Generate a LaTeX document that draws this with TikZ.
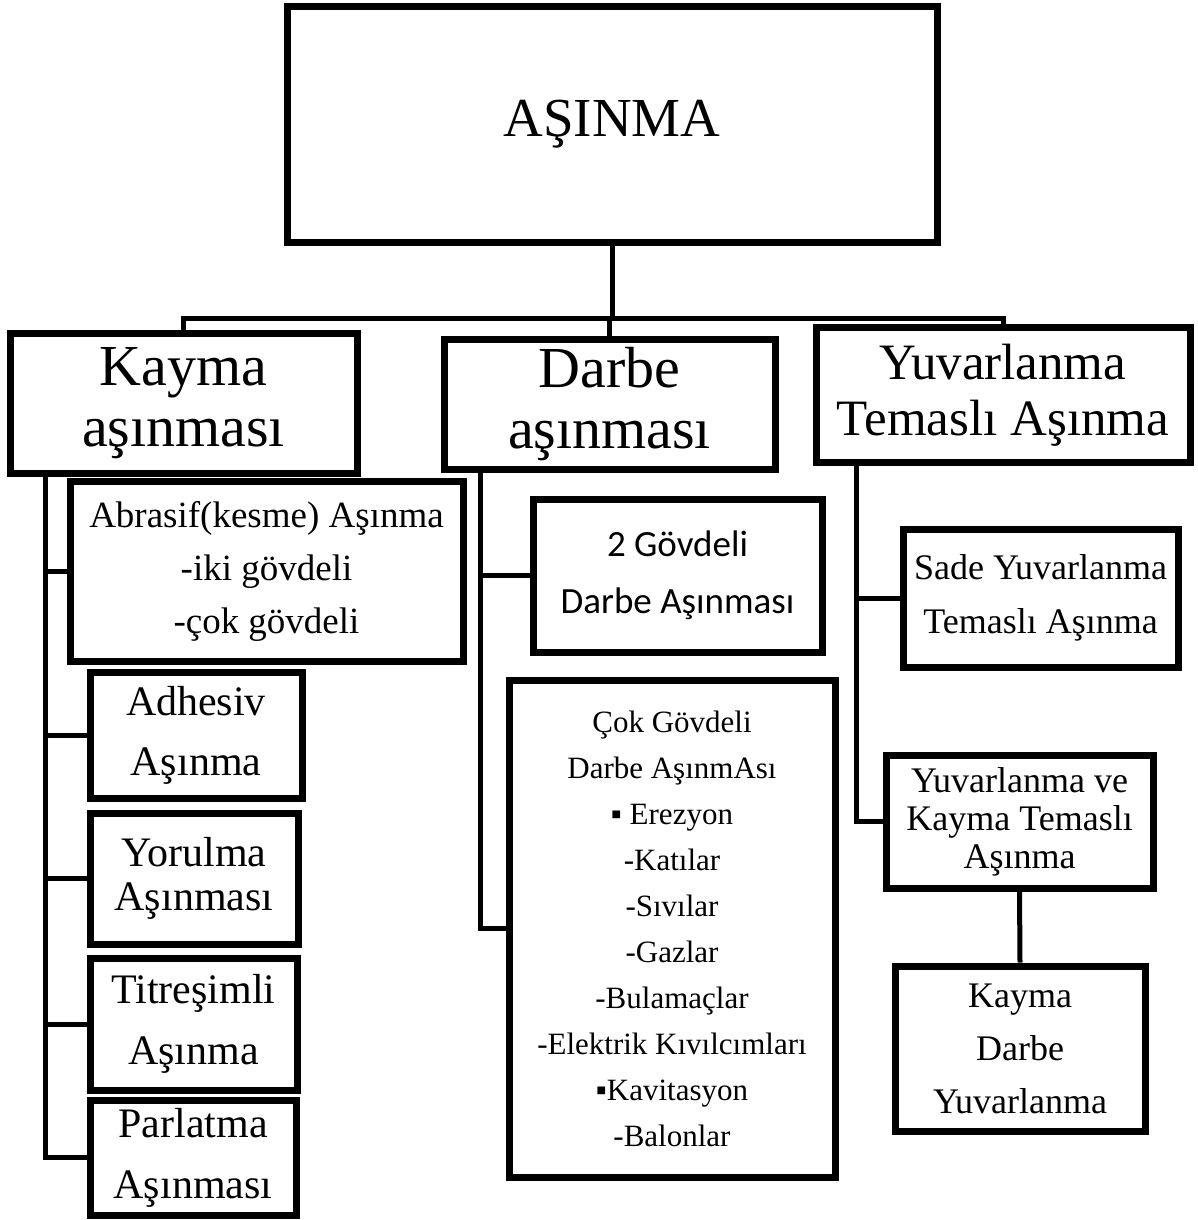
\documentclass[tikz,border=0pt]{standalone}
\usepackage{fontspec}
\setmainfont{Liberation Serif}
\newfontfamily\calfont{Carlito}
\begin{document}
\begin{tikzpicture}[x=1pt,y=-1pt,
  box/.style={draw, line width=7pt, fill=white, inner sep=0pt, align=center},
  conn/.style={line width=5pt}]
\useasboundingbox (0,0) rectangle (1197,1220);
% top
\node[box, minimum width=650, minimum height=235, font=\fontsize{55}{60}\selectfont] (top) at (612,124.5) {\raisebox{-4pt}{AŞINMA}};
% level 2
\node[box, minimum width=347, minimum height=140, font=\fontsize{58}{61}\selectfont] (kayma) at (183.5,403) {Kayma\\aşınması};
\node[box, minimum width=331, minimum height=130, font=\fontsize{58}{61}\selectfont] (darbe) at (609.5,404) {Darbe\\aşınması};
\node[box, minimum width=374, minimum height=135, font=\fontsize{51}{56}\selectfont] (yuv) at (1003,395) {Yuvarlanma\\Temaslı Aşınma};
% kayma children
\node[box, minimum width=393, minimum height=180, font=\fontsize{37}{53}\selectfont] (abr) at (266.5,571) {Abrasif(kesme) Aşınma\\-iki gövdeli\\-çok gövdeli};
\node[box, minimum width=212, minimum height=126, font=\fontsize{42}{60}\selectfont] (adh) at (196,735) {Adhesiv\\Aşınma};
\node[box, minimum width=208, minimum height=131, font=\fontsize{42}{44}\selectfont] (yor) at (194,878.5) {Yorulma\\Aşınması};
\node[box, minimum width=207, minimum height=132, font=\fontsize{42}{61}\selectfont] (tit) at (193.5,1024) {Titreşimli\\Aşınma};
\node[box, minimum width=206, minimum height=115, font=\fontsize{42}{61}\selectfont] (par) at (193,1157.5) {Parlatma\\Aşınması};
% darbe children
\node[box, minimum width=289, minimum height=153, font=\calfont\fontsize{37}{57}\selectfont] (g2) at (677.5,575.5) {2 Gövdeli\\Darbe Aşınması};
\node[box, minimum width=326, minimum height=497, font=\fontsize{31}{46}\selectfont] (cok) at (672,928.5) {Çok Gövdeli\\Darbe AşınmAsı\\\char"25AA{} Erezyon\\-Katılar\\-Sıvılar\\-Gazlar\\-Bulamaçlar\\-Elektrik Kıvılcımları\\\char"25AA Kavitasyon\\-Balonlar};
% yuvarlanma children
\node[box, minimum width=275, minimum height=138, font=\fontsize{36}{54}\selectfont] (sade) at (1040.5,598) {Sade Yuvarlanma\\Temaslı Aşınma};
\node[box, minimum width=267, minimum height=133, font=\fontsize{36}{38}\selectfont] (yk) at (1019.5,821.5) {Yuvarlanma ve\\Kayma Temaslı\\Aşınma};
\node[box, minimum width=250, minimum height=165, font=\fontsize{36}{53}\selectfont] (kdy) at (1020,1048.5) {Kayma\\Darbe\\Yuvarlanma};
% connectors
\coordinate (bus) at (0,318);
\coordinate (kt) at (45,0);
\coordinate (dt) at (480,0);
\coordinate (yt) at (856,0);
\draw[conn] (top.south) -- (top.south |- bus);
\draw[conn] (kayma.north) -- (kayma.north |- bus) -| (yuv.north);
\draw[conn] (darbe.north) -- (darbe.north |- bus);
% kayma trunk
\draw[conn] (kayma.south -| kt) -- (par.west -| kt) -- (par.west);
\draw[conn] (abr.west -| kt) -- (abr.west);
\draw[conn] (adh.west -| kt) -- (adh.west);
\draw[conn] (yor.west -| kt) -- (yor.west);
\draw[conn] (tit.west -| kt) -- (tit.west);
% darbe trunk
\draw[conn] (darbe.south -| dt) -- (cok.west -| dt) -- (cok.west);
\draw[conn] (g2.west -| dt) -- (g2.west);
% yuv trunk
\draw[conn] (yuv.south -| yt) -- (yk.west -| yt) -- (yk.west);
\draw[conn] (sade.west -| yt) -- (sade.west);
\draw[conn] (yk.south) -- (kdy.north);
\end{tikzpicture}
\end{document}
